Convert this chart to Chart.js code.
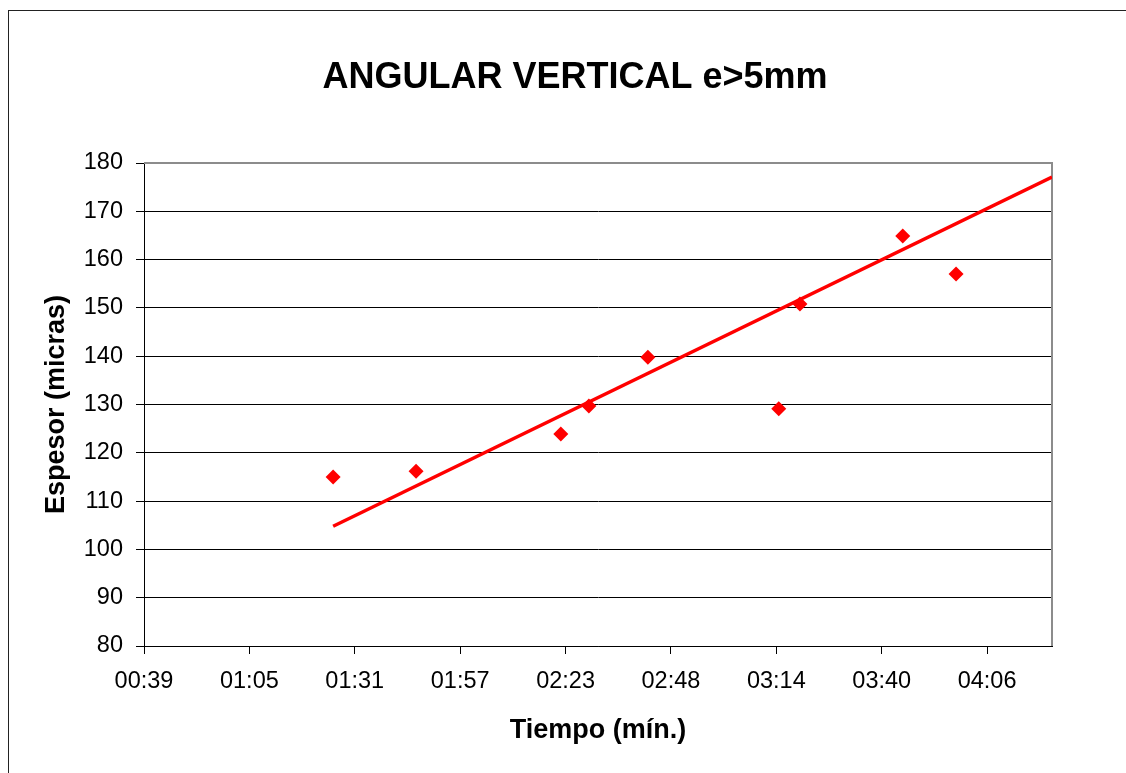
<!DOCTYPE html>
<html>
<head>
<meta charset="utf-8">
<title>ANGULAR VERTICAL e>5mm</title>
<script src="https://cdn.jsdelivr.net/npm/chart.js@4"></script>
<style>
    html, body { margin: 0; padding: 0; background: #fff; overflow: hidden; }
    #frame {
        position: absolute; left: 8px; top: 10px;
        width: 1300px; height: 900px;
        border: 1.5px solid #222;
    }
    #wrap { position: absolute; left: 0; top: 0; width: 1126px; height: 773px; }
</style>
</head>
<body>
<div id="frame"></div>
<div id="wrap"><canvas id="chart"></canvas></div>
<script>
// time in seconds, thickness in microns
const timeSeconds = [85.4, 105.8, 141.4, 148.3, 162.8, 195.0, 200.2, 225.5, 238.6];
const thickness = [115.0, 116.2, 123.9, 129.7, 139.8, 129.1, 150.8, 164.9, 157.0];

// trendline endpoints
const trendX = [85.4, 262.2];
const trendY = [104.8, 177.1];

// x tick values (seconds) and the labels shown under them
const xTickValues = [38.88, 64.8, 90.72, 116.64, 142.56, 168.48, 194.4, 220.32, 246.24];
const xTickLabels = ['00:39', '01:05', '01:31', '01:57', '02:23', '02:48', '03:14', '03:40', '04:06'];

const TITLE = 'ANGULAR VERTICAL e>5mm';
const RED = '#ff0000';
const FONT = 'Liberation Sans, Arial, sans-serif';

// gray top/right edge of the plot area
const plotFrame = {
    id: 'plotFrame',
    beforeDatasetsDraw(chart) {
        const { ctx, chartArea: a } = chart;
        ctx.save();
        ctx.strokeStyle = '#8c8c8c';
        ctx.lineWidth = 2;
        ctx.beginPath();
        ctx.moveTo(a.left, a.top);
        ctx.lineTo(a.right, a.top);
        ctx.lineTo(a.right, a.bottom);
        ctx.stroke();
        ctx.restore();
    }
};

// title centred on the whole chart box, not on the plot
const chartTitle = {
    id: 'chartTitle',
    afterDraw(chart) {
        const ctx = chart.ctx;
        ctx.save();
        ctx.fillStyle = '#000';
        ctx.font = 'bold 36px ' + FONT;
        ctx.textAlign = 'center';
        ctx.textBaseline = 'middle';
        ctx.fillText(TITLE, 575, 78);
        ctx.restore();
    }
};

new Chart(document.getElementById('chart'), {
    type: 'scatter',
    data: {
        datasets: [{
            label: 'Espesor',
            data: timeSeconds.map((t, i) => ({ x: t, y: thickness[i] })),
            pointStyle: 'rectRot',
            pointRadius: 7.5,
            backgroundColor: RED,
            borderColor: RED,
            borderWidth: 0
        }, {
            type: 'line',
            label: 'Tendencia',
            data: trendX.map((t, i) => ({ x: t, y: trendY[i] })),
            borderColor: RED,
            borderWidth: 3.5,
            pointRadius: 0,
            fill: false
        }]
    },
    options: {
        responsive: true,
        maintainAspectRatio: false,
        animation: false,
        layout: { padding: { left: 0, right: 74, top: 163, bottom: 0 } },
        plugins: {
            legend: { display: false },
            tooltip: { enabled: false },
            title: { display: false }
        },
        scales: {
            x: {
                type: 'linear',
                min: 38.88,
                max: 262.2,
                afterFit(scale) { scale.height = 127; },
                afterBuildTicks(scale) {
                    scale.ticks = xTickValues.map(v => ({ value: v }));
                },
                ticks: {
                    color: '#000',
                    font: { family: FONT, size: 23.5 },
                    padding: 13,
                    maxRotation: 0,
                    autoSkip: false,
                    callback: (v, i) => xTickLabels[i]
                },
                grid: { drawOnChartArea: false, tickColor: '#000', tickLength: 8, lineWidth: 1 },
                border: { display: true, color: '#000', width: 1 },
                title: {
                    display: true,
                    text: 'Tiempo (mín.)',
                    color: '#000',
                    font: { family: FONT, size: 27, weight: 'bold' },
                    padding: { top: 0, bottom: 26 }
                }
            },
            y: {
                min: 80,
                max: 180,
                afterFit(scale) { scale.width = 144; },
                ticks: {
                    stepSize: 10,
                    color: '#000',
                    font: { family: FONT, size: 23.5 },
                    padding: 13
                },
                grid: { color: '#000', tickColor: '#000', tickLength: 8, lineWidth: 1 },
                border: { display: true, color: '#000', width: 1 },
                title: {
                    display: true,
                    text: 'Espesor (micras)',
                    color: '#000',
                    font: { family: FONT, size: 27, weight: 'bold' },
                    padding: { top: 40, bottom: 0 }
                }
            }
        }
    },
    plugins: [plotFrame, chartTitle]
});
</script>
</body>
</html>
